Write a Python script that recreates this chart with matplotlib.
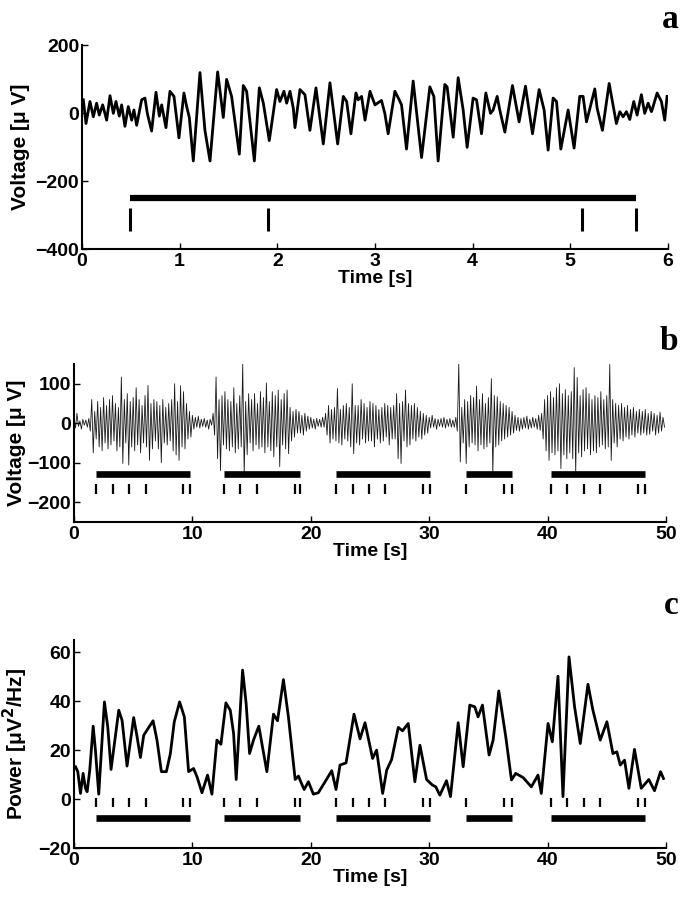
import numpy as np
import matplotlib
matplotlib.use('Agg')
import matplotlib.pyplot as plt

plt.rcParams['font.family'] = ['Liberation Sans', 'DejaVu Sans']
plt.rcParams['font.weight'] = 'bold'

#---------------- panel a : raw trace, 0-6 s (extrema) ----------------
ta = [0.014, 0.041, 0.082, 0.116, 0.150, 0.177, 0.212, 0.253, 0.287, 0.321, 0.348, 0.382,
      0.406, 0.440, 0.474, 0.509, 0.532, 0.560, 0.611, 0.645, 0.669, 0.713, 0.758, 0.792,
      0.816, 0.860, 0.901, 0.942, 0.993, 1.044, 1.072, 1.099, 1.140, 1.208, 1.259, 1.311,
      1.389, 1.447, 1.481, 1.532, 1.611, 1.652, 1.686, 1.765, 1.816, 1.857, 1.918, 1.993,
      2.027, 2.068, 2.096, 2.130, 2.164, 2.181, 2.232, 2.283, 2.334, 2.396, 2.471, 2.539,
      2.618, 2.676, 2.710, 2.754, 2.805, 2.829, 2.863, 2.898, 2.949, 3.000,
      3.067, 3.101, 3.135, 3.204, 3.248, 3.272, 3.323, 3.391, 3.477, 3.562, 3.603, 3.647,
      3.715, 3.739, 3.801, 3.852, 3.903, 3.944, 4.005, 4.040, 4.091, 4.135, 4.183, 4.210,
      4.251, 4.278, 4.330, 4.408, 4.476, 4.541, 4.613, 4.681, 4.732, 4.773, 4.824, 4.859,
      4.903, 4.978, 5.039, 5.097, 5.131, 5.166, 5.251, 5.275, 5.329, 5.398, 5.472, 5.507,
      5.541, 5.575, 5.609, 5.650, 5.684, 5.728, 5.762, 5.797, 5.831, 5.848, 5.889, 5.933,
      5.967, 5.991]
va = [39, -31, 34, -11, 29, -6, 24, -21, 51, -1, 34, -9,
      24, -39, 19, -21, 9, -36, 39, 44, -1, -53, 61, -9,
      24, -43, 64, 49, -73, 59, 19, -13, -141, 119, -51, -141,
      121, -13, 99, 49, -121, 81, 64, -141, 74, 29, -81, 69,
      34, 64, 29, 64, 14, -43, 69, 54, -51, 74, -91, 89,
      -91, 49, 34, -61, 59, 39, 49, -21, 64, 24,
      37, -1, -61, 64, 39, 24, -106, 94, -131, 77, 49, -141,
      84, 77, -71, 104, 9, -101, 44, 39, -61, 59, -1, 9,
      49, 9, -56, 81, -26, 79, -61, 69, 9, -109, 44, 34,
      -106, 9, -103, 49, 49, -26, 71, 14, -51, 87, -31, 4,
      -11, 4, -19, 34, -6, 54, -1, 29, 4, 19, 59, 34,
      -21, 49]
bar_a = (0.49, 5.67)
events_a = [0.49, 1.90, 5.12, 5.67]

#---------------- panel b : raw trace, 0-50 s, 8 samples per second ----------------
vb_rows = [
    [10, -12, 25, -8, 6, -15, 10, -5],
    [8, -10, 12, -20, 60, -75, 30, -40],
    [55, -60, 40, -70, 65, -50, 45, -65],
    [60, -55, 70, -45, 50, -70, 40, -60],
    [117, -102, 60, -50, 75, -106, 55, -60],
    [65, -70, 90, -55, 60, -75, 45, -50],
    [70, -60, 96, -94, 50, -65, 60, -45],
    [55, -65, 45, -100, 60, -50, 40, -55],
    [50, -45, 60, -70, 100, -80, 55, -94],
    [95, -60, 80, -65, 50, -40, 30, -35],
    [20, -15, 15, -10, 18, -12, 10, -8],
    [12, -10, 8, -15, 10, -5, 25, -30],
    [117, -90, 60, -120, 70, -55, 80, -65],
    [60, -70, 55, -60, 90, -75, 50, -65],
    [70, -60, 151, -130, 55, -80, 75, -50],
    [60, -70, 75, -55, 50, -65, 80, -60],
    [65, -75, 102, -60, 55, -70, 80, -85],
    [70, -60, 84, -110, 60, -55, 75, -65],
    [84, -77, 40, -45, 30, -35, 35, -25],
    [30, -25, 20, -30, 25, -20, 18, -15],
    [15, -12, 10, -15, 12, -8, 10, -10],
    [15, -10, 25, -30, 45, -50, 35, -40],
    [40, -45, 88, -50, 35, -55, 45, -40],
    [50, -45, 40, -60, 100, -77, 45, -50],
    [45, -55, 60, -40, 50, -50, 40, -45],
    [55, -45, 50, -60, 45, -40, 35, -50],
    [40, -45, 50, -35, 45, -55, 40, -40],
    [45, -40, 75, -90, 50, -102, 55, -45],
    [84, -60, 50, -55, 45, -40, 50, -45],
    [40, -35, 30, -40, 25, -30, 20, -25],
    [15, -12, 20, -10, 12, -15, 10, -8],
    [12, -10, 15, -12, 10, -8, 12, -10],
    [8, -10, 15, -20, 151, -98, 40, -50],
    [60, -102, 55, -60, 70, -50, 65, -55],
    [94, -70, 60, -55, 75, -65, 50, -60],
    [65, -50, 113, -128, 70, -60, 67, -55],
    [55, -45, 50, -40, 45, -35, 40, -30],
    [30, -25, 20, -18, 15, -20, 12, -15],
    [15, -12, 18, -15, 10, -12, 15, -10],
    [12, -15, 20, -18, 25, -40, 60, -70],
    [70, -94, 80, -75, 65, -80, 90, -70],
    [100, -115, 75, -80, 85, -90, 70, -75],
    [80, -90, 141, -128, 116, -75, 70, -85],
    [85, -70, 90, -65, 75, -80, 60, -70],
    [70, -75, 65, -60, 80, -55, 60, -65],
    [70, -60, 149, -94, 60, -50, 50, -60],
    [45, -40, 50, -45, 40, -35, 45, -40],
    [35, -30, 40, -35, 30, -25, 35, -30],
    [30, -25, 35, -30, 25, -28, 30, -20],
    [25, -30, 20, -25, 28, -20, 15, -10],
]
bars_bc = [(1.87, 9.82), (12.69, 19.10), (22.13, 30.06), (33.10, 37.03), (40.26, 48.25)]
events_bc = [1.87, 3.27, 4.62, 6.05, 9.20, 9.82,
             12.69, 14.06, 15.45, 18.68, 19.10,
             22.13, 23.54, 24.92, 26.26, 29.50, 30.06,
             33.10, 36.30, 37.03,
             40.26, 41.64, 43.07, 44.45, 47.62, 48.25]

#---------------- panel c : power, 0-50 s ----------------
tc = [0.13, 0.32, 0.55, 0.77, 0.97, 1.11, 1.33, 1.62, 1.81, 2.09, 2.57, 2.85, 3.13, 3.78,
      4.06, 4.48, 5.04, 5.33, 5.61, 5.89, 6.17, 6.68, 7.01, 7.38, 7.80, 8.14, 8.47, 8.92,
      9.32, 9.68, 10.10, 10.39, 10.81, 11.28, 11.65, 12.07, 12.41, 12.83, 13.20, 13.48,
      13.70, 14.24, 14.54, 14.83, 15.16, 15.61, 16.29, 16.85, 17.19, 17.69, 18.11, 18.68,
      18.96, 19.15, 19.44, 19.80, 20.22, 20.64, 21.21, 21.77, 22.13, 22.47, 22.98, 23.65,
      24.16, 24.58, 25.22, 25.56, 26.07, 26.41, 26.83, 27.39, 27.75, 28.23, 28.79, 29.22,
      29.78, 30.28, 30.56, 30.90, 31.46, 31.80, 32.45, 32.87, 33.43, 33.85, 34.13, 34.50,
      35.06, 35.40, 35.88, 36.47, 36.95, 37.31, 37.93, 38.63, 39.19, 39.47, 40.04, 40.40,
      40.88, 41.30, 41.81, 42.28, 42.76, 43.41, 43.83, 44.45, 45.01, 45.52, 45.85, 46.14,
      46.50, 46.87, 47.34, 47.91, 48.55, 49.03, 49.54, 49.79]
pc = [13.2, 11.2, 2.3, 10.5, 4.4, 3.0, 11.8, 29.8, 20.0, 2.0, 39.7, 29.5, 12.1, 36.3,
      32.2, 13.5, 33.3, 25.4, 17.0, 26.1, 28.2, 32.0, 24.1, 11.2, 11.2, 18.6, 31.6, 39.7,
      33.6, 11.2, 12.5, 9.1, 2.6, 9.8, 2.0, 24.1, 22.4, 39.3, 36.3, 26.8,
      8.0, 52.7, 39.0, 18.6, 24.1, 29.8, 11.2, 34.7, 32.0, 48.8, 33.6, 8.0,
      9.4, 7.1, 3.9, 7.1, 2.0, 2.6, 7.1, 11.6, 3.9, 13.9, 14.8, 34.7,
      24.6, 31.2, 16.6, 20.0, 2.3, 11.8, 16.2, 29.3, 27.9, 30.9, 7.1, 22.0,
      8.0, 5.7, 5.0, 1.6, 7.5, 1.0, 31.2, 13.2, 38.4, 37.7, 33.6, 38.4,
      18.0, 24.1, 44.2, 25.4, 7.8, 10.5, 8.8, 5.0, 9.8, 2.3, 30.9, 23.4,
      50.2, 1.0, 58.1, 37.7, 22.7, 46.9, 36.3, 24.1, 31.6, 18.6, 19.3, 13.9,
      15.9, 4.4, 20.3, 4.4, 8.0, 3.4, 11.2, 8.4]

#---------------- figure ----------------
fig = plt.figure(figsize=(6.82, 8.99), dpi=100)

ax_a = fig.add_axes([0.1202, 0.7230, 0.8592, 0.2269])
ax_b = fig.add_axes([0.1085, 0.4194, 0.8680, 0.1757])
ax_c = fig.add_axes([0.1085, 0.0567, 0.8680, 0.2314])

def style(ax):
    for s in ['top', 'right']:
        ax.spines[s].set_visible(False)
    for s in ['left', 'bottom']:
        ax.spines[s].set_linewidth(1.5)
    ax.tick_params(direction='in', length=4, width=1, labelsize=14, pad=2)
    ax.tick_params(axis='x', pad=3)
    ax.set_xlabel('Time [s]', fontsize=14, fontweight='bold', labelpad=0)

# a
ax_a.plot(ta, va, color='black', lw=2.0)
ax_a.plot(bar_a, [-251, -251], color='black', lw=4.5, solid_capstyle='butt')
ax_a.vlines(events_a, -346, -279, color='black', lw=2.2)
ax_a.set_xlim(0, 6)
ax_a.set_ylim(-400, 200)
ax_a.set_yticks([-400, -200, 0, 200])
ax_a.set_ylabel('Voltage [\u03bc V]', fontsize=15, fontweight='bold', labelpad=4)
style(ax_a)

# b
vb = np.array(vb_rows, dtype=float).ravel()
tb = np.arange(vb.size) / 8.0
ax_b.plot(tb, vb, color='#1a1a1a', lw=0.6)
for s, e in bars_bc:
    ax_b.plot([s, e], [-129, -129], color='black', lw=4.8, solid_capstyle='butt')
ax_b.vlines(events_bc, -178, -153, color='black', lw=1.6)
ax_b.set_xlim(0, 50)
ax_b.set_ylim(-250, 150)
ax_b.set_yticks([-200, -100, 0, 100])
ax_b.set_ylabel('Voltage [\u03bc V]', fontsize=15, fontweight='bold', labelpad=1)
style(ax_b)

# c
ax_c.plot(tc, pc, color='black', lw=2.0)
for s, e in bars_bc:
    ax_c.plot([s, e], [-7.9, -7.9], color='black', lw=4.8, solid_capstyle='butt')
ax_c.vlines(events_bc, -3.1, 0.3, color='black', lw=1.6)
ax_c.set_xlim(0, 50)
ax_c.set_ylim(-20, 65)
ax_c.set_yticks([-20, 0, 20, 40, 60])
ax_c.set_ylabel('Power [\u03bcV$^2$/Hz]', fontsize=15, fontweight='bold', labelpad=6)
style(ax_c)

# panel letters
for lbl, y in [('a', 0.978), ('b', 0.620), ('c', 0.327)]:
    fig.text(0.995, y, lbl, ha='right', va='center', fontsize=24, fontweight='bold',
             family='Liberation Serif')

fig.savefig('out.png', dpi=100)
